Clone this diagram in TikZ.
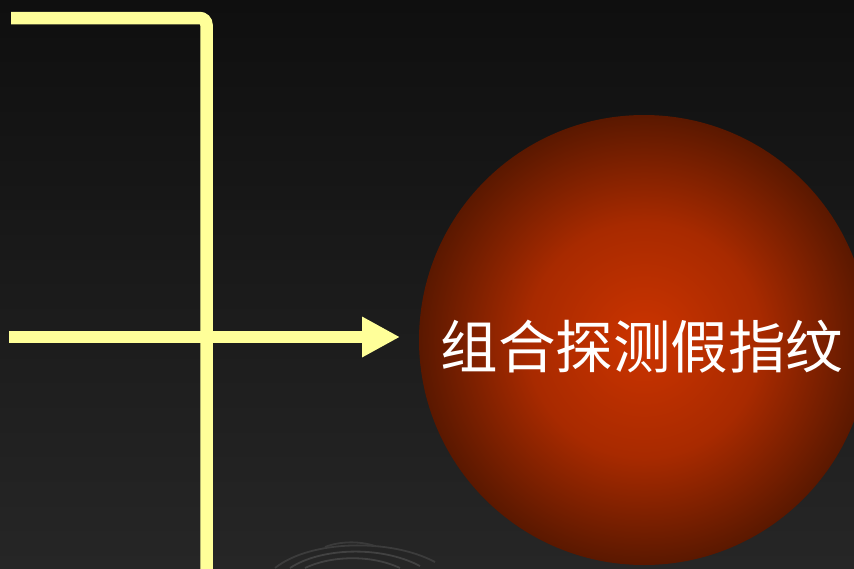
\documentclass[tikz,border=0pt]{standalone}
\usepackage{fontspec}
\newfontfamily\cjk{Noto Sans CJK SC}
\usetikzlibrary{arrows.meta}
\definecolor{bgtop}{RGB}{15,15,15}
\definecolor{bgbot}{RGB}{38,38,38}
\definecolor{ylw}{RGB}{255,255,153}
\definecolor{sphin}{RGB}{204,52,0}
\definecolor{sphmid}{RGB}{168,42,0}
\definecolor{sphout}{RGB}{90,24,0}
\definecolor{fpline}{RGB}{66,66,66}
\pgfdeclareradialshading{sphereshade}{\pgfpoint{0bp}{0bp}}{color(0bp)=(sphin);color(13bp)=(sphmid);color(25bp)=(sphout);color(50bp)=(sphout)}
\tikzset{
  yline/.style={draw=ylw, line width=12.5pt},
  fparc/.style={draw=fpline, line width=1.8pt},
}
\begin{document}
\begin{tikzpicture}[x=1pt,y=-1pt]
\useasboundingbox (0,0) rectangle (854,568);
\clip (0,0) rectangle (854,568);
\shade[top color=bgtop, bottom color=bgbot] (0,0) rectangle (854,568);
% faint fingerprint arcs at bottom
\draw[fparc] (290,568) .. controls (320,548) and (380,545) .. (420,566);
\draw[fparc] (305,568) .. controls (330,556) and (370,554) .. (400,568);
\draw[fparc, draw=fpline!80!bgbot] (275,568) .. controls (310,540) and (390,538) .. (435,562);
\draw[fparc, draw=fpline!70!bgbot] (325,547) .. controls (340,541) and (360,541) .. (375,546);
% sphere
\node[circle, minimum size=450pt, inner sep=0pt, shading=sphereshade] (sph) at (644,340) {};
\node[text=white, font=\cjk\fontsize{57.5}{62}\selectfont, inner sep=0pt] (lbl) at (642,347) {组合探测假指纹};
% yellow lines
\coordinate (tl) at (11,18);
\coordinate (tc) at (206.5,18);
\coordinate (bc) at (206.5,575);
\draw[yline, rounded corners=7pt] (tl) -- (tc) -- (bc);
\coordinate (ml) at (9,337);
\coordinate (mr) at (400,337);
\draw[yline, -{Triangle[length=38pt,width=38pt]}, ylw] (ml) -- (mr);
\end{tikzpicture}
\end{document}
